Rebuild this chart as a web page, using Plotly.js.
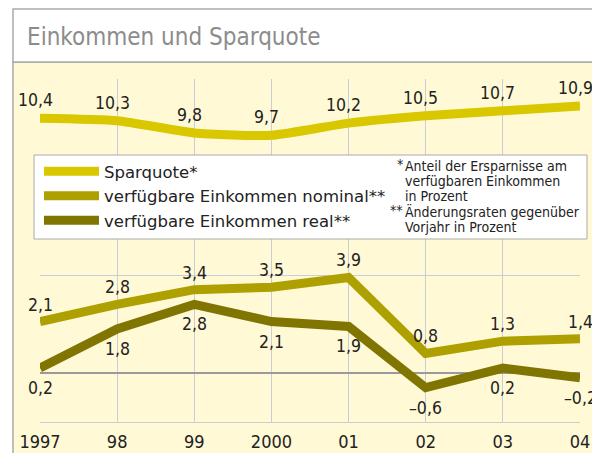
<!DOCTYPE html>
<html>
<head>
<meta charset="utf-8">
<script src="https://cdn.plot.ly/plotly-3.0.1.min.js"></script>
<style>
  html, body { margin: 0; padding: 0; background: #ffffff; }
  #chart { width: 592px; height: 453px; }
</style>
</head>
<body>
<div id="chart"></div>
<script>
// ---- data ----
const years = [1997, 1998, 1999, 2000, 2001, 2002, 2003, 2004];
const tickText = ['1997', '98', '99', '2000', '01', '02', '03', '04'];
const sparquote = [10.4, 10.3, 9.8, 9.7, 10.2, 10.5, 10.7, 10.9];
const nominal = [2.1, 2.8, 3.4, 3.5, 3.9, 0.8, 1.3, 1.4];
const real = [0.2, 1.8, 2.8, 2.1, 1.9, -0.6, 0.2, -0.2];
const seriesNames = ['Sparquote*', 'verfügbare Einkommen nominal**', 'verfügbare Einkommen real**'];
const footnoteMarks = ['*', '', '', '**', ''];
const footnoteLines = ['Anteil der Ersparnisse am', 'verfügbaren Einkommen', 'in Prozent', 'Änderungsraten gegenüber', 'Vorjahr in Prozent'];
const chartTitle = 'Einkommen und Sparquote';

// ---- styling ----
const FONT = '"DejaVu Sans Condensed", "DejaVu Sans", sans-serif';
const FONT_WIDE = '"DejaVu Sans", sans-serif';
const colors = ['#D9C700', '#AEA000', '#7F7500'];
const cream = '#FFF9D5';
const frame = '#AAAAAA';
const grid = '#C9CCD9';
const textCol = '#222222';

const series = [sparquote, nominal, real];
const traces = series.map((vals, i) => ({
  x: years, y: vals, type: 'scatter', mode: 'lines', name: seriesNames[i],
  line: { color: colors[i], width: 9, shape: i === 0 ? 'spline' : 'linear', smoothing: 0.5 },
  hoverinfo: 'skip'
}));

function fmt(v) { return v.toFixed(1).replace('.', ',').replace('-', '\u2013'); }

const labelStyle = [
  { xshift: -5, yshift: 18 },
  { xshift: 0, yshift: 17 },
  { xshift: 0, yshift: -20 }
];

const annotations = [];
series.forEach((vals, i) => {
  vals.forEach((v, j) => {
    annotations.push({
      x: years[j], y: v, xref: 'x', yref: 'y', text: fmt(v), showarrow: false,
      xanchor: 'center', yanchor: 'middle',
      xshift: labelStyle[i].xshift, yshift: labelStyle[i].yshift,
      font: { family: FONT, size: 17.5, color: textCol }
    });
  });
});

// px -> paper helpers (plot area: x 40..580, y 79..422)
const px = (p) => (p - 40) / 540;
const py = (p) => (422 - p) / 343;

footnoteLines.forEach((t, k) => {
  const yc = py(166 + k * 15.2);
  annotations.push({
    x: px(403), y: yc, xref: 'paper', yref: 'paper', text: t, showarrow: false,
    xanchor: 'left', yanchor: 'middle',
    font: { family: FONT, size: 14, color: textCol }
  });
  if (footnoteMarks[k]) {
    annotations.push({
      x: px(403), y: yc, xref: 'paper', yref: 'paper', text: footnoteMarks[k], showarrow: false,
      xanchor: 'right', yanchor: 'middle', yshift: 2, xshift: 2,
      font: { family: FONT, size: 14, color: textCol }
    });
  }
});

const shapes = [
  // cream panel
  { type: 'rect', xref: 'paper', yref: 'paper', x0: px(13), x1: px(620), y0: py(470), y1: py(62),
    fillcolor: cream, line: { color: frame, width: 1.5 }, layer: 'below' },
  // title band
  { type: 'rect', xref: 'paper', yref: 'paper', x0: px(13), x1: px(620), y0: py(62), y1: py(9),
    fillcolor: '#ffffff', line: { color: frame, width: 1.5 }, layer: 'below' },
  // legend box
  { type: 'rect', xref: 'paper', yref: 'paper', x0: px(34), x1: px(587), y0: py(239), y1: py(155),
    fillcolor: '#ffffff', line: { color: frame, width: 1 }, layer: 'above' }
];

const layout = {
  width: 592, height: 453,
  margin: { l: 40, r: 12, t: 79, b: 31, pad: 0 },
  paper_bgcolor: '#ffffff',
  plot_bgcolor: 'rgba(0,0,0,0)',
  showlegend: true,
  title: {
    text: chartTitle, xref: 'container', yref: 'container',
    x: 27 / 592, xanchor: 'left', y: 1 - 37 / 453, yanchor: 'middle',
    font: { family: FONT, size: 24, color: '#8C8C8C' }
  },
  xaxis: {
    range: [1997, 2004], tickvals: years, ticktext: tickText,
    showgrid: true, gridcolor: grid, gridwidth: 1,
    showline: true, linecolor: grid, linewidth: 1, mirror: false,
    zeroline: false, ticks: '', ticklabelstandoff: 3,
    tickfont: { family: FONT, size: 18, color: textCol },
    fixedrange: true
  },
  yaxis: {
    range: [-2, 12], tick0: 0, dtick: 4, showticklabels: false,
    showgrid: true, gridcolor: grid, gridwidth: 1,
    zeroline: true, zerolinecolor: '#9A9A9A', zerolinewidth: 1.5,
    showline: false, ticks: '', fixedrange: true
  },
  legend: {
    x: px(39), xanchor: 'left', y: py(154), yanchor: 'top',
    bgcolor: 'rgba(0,0,0,0)', borderwidth: 0,
    itemwidth: 55, tracegroupgap: 0,
    font: { family: FONT_WIDE, size: 16.5, color: textCol }
  },
  shapes: shapes,
  annotations: annotations
};

Plotly.newPlot('chart', traces, layout, { displayModeBar: false, staticPlot: true });
</script>
</body>
</html>
